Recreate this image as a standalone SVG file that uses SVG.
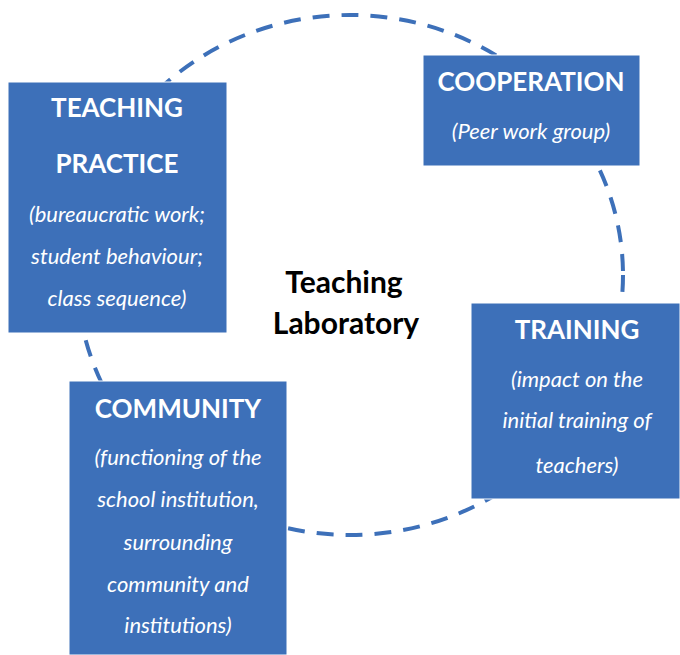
<svg xmlns="http://www.w3.org/2000/svg" width="680" height="655" viewBox="0 0 680 655">
<style>
.box{fill:#3D70B9;stroke:#ffffff;stroke-width:1}
.h{font-family:Lato,"Liberation Sans",sans-serif;font-weight:bold;font-size:26px;fill:#ffffff;text-anchor:middle}
.s{font-family:Lato,"Liberation Sans",sans-serif;font-style:italic;font-size:22px;fill:#ffffff;text-anchor:middle}
.c{font-family:Lato,"Liberation Sans",sans-serif;font-weight:bold;font-size:30px;fill:#000000;text-anchor:middle}
.ring{fill:none;stroke:#3D70B9;stroke-width:4;stroke-dasharray:17 12}
</style>
<g id="connectors">
<ellipse class="ring" cx="350" cy="275" rx="273" ry="260"/>
</g>
<g id="center">
<text class="c" x="344" y="293">Teaching</text>
<text class="c" x="346" y="334">Laboratory</text>
</g>
<g id="teaching-practice">
<rect class="box" x="8" y="82" width="219" height="251"/>
<text class="h" x="117" y="117">TEACHING</text>
<text class="h" x="117" y="173">PRACTICE</text>
<text class="s" x="117" y="222">(bureaucratic work;</text>
<text class="s" x="117" y="264">student behaviour;</text>
<text class="s" x="117" y="306">class sequence)</text>
</g>
<g id="cooperation">
<rect class="box" x="423" y="55" width="217" height="111"/>
<text class="h" x="531" y="91">COOPERATION</text>
<text class="s" x="531" y="139">(Peer work group)</text>
</g>
<g id="training">
<rect class="box" x="471" y="303" width="209" height="196"/>
<text class="h" x="577" y="339">TRAINING</text>
<text class="s" x="577" y="387">(impact on the</text>
<text class="s" x="577" y="428">initial training of</text>
<text class="s" x="577" y="473">teachers)</text>
</g>
<g id="community">
<rect class="box" x="69" y="381" width="218" height="274"/>
<text class="h" x="178" y="418">COMMUNITY</text>
<text class="s" x="178" y="465">(functioning of the</text>
<text class="s" x="178" y="507">school institution,</text>
<text class="s" x="178" y="550">surrounding</text>
<text class="s" x="178" y="592">community and</text>
<text class="s" x="178" y="633">institutions)</text>
</g>
</svg>
